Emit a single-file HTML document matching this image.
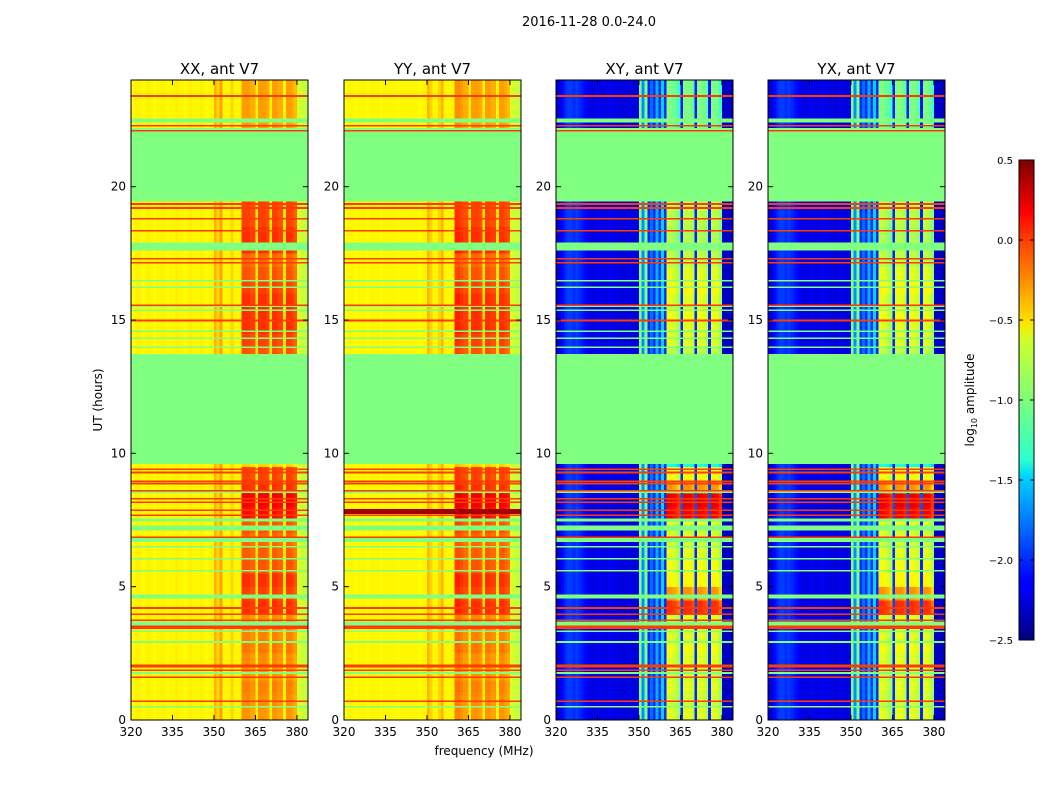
<!DOCTYPE html>
<html><head><meta charset="utf-8"><style>
body{margin:0;background:#fff;font-family:"Liberation Sans",sans-serif;}
svg text{font-family:"DejaVu Sans","Liberation Sans",sans-serif;}
</style></head><body>
<svg id="c" width="1050" height="800" xmlns="http://www.w3.org/2000/svg">
<defs><linearGradient id="jetg" x1="0" y1="1" x2="0" y2="0">
<stop offset="0" stop-color="#00007f"/><stop offset="0.11" stop-color="#0000ff"/><stop offset="0.125" stop-color="#0000ff"/>
<stop offset="0.34" stop-color="#00d4ff"/><stop offset="0.375" stop-color="#29ffce"/><stop offset="0.5" stop-color="#7dff7a"/>
<stop offset="0.625" stop-color="#ceff29"/><stop offset="0.66" stop-color="#ffe500"/><stop offset="0.875" stop-color="#ff1400"/>
<stop offset="0.89" stop-color="#ff0000"/><stop offset="1" stop-color="#7f0000"/></linearGradient></defs>
<text x="589" y="26" font-size="13" text-anchor="middle">2016-11-28 0.0-24.0</text>
<text x="484" y="755" font-size="12" text-anchor="middle">frequency (MHz)</text>
<text transform="translate(102,400) rotate(-90)" font-size="12" text-anchor="middle">UT (hours)</text>
<rect x="1019" y="160" width="15" height="480" fill="url(#jetg)" stroke="#000" stroke-width="1"/>
<text transform="translate(974,400) rotate(-90)" font-size="12" text-anchor="middle">log<tspan font-size="8" dy="3">10</tspan><tspan dy="-3"> amplitude</tspan></text>
<g id="panels"></g>
<g id="cb"></g>
</svg>
<script>
const panelTitles=["XX, ant V7","YY, ant V7","XY, ant V7","YX, ant V7"];
const xTicks=[320,335,350,365,380];
const yTicks=[0,5,10,15,20];
const cbTicks=[0.5,0.0,-0.5,-1.0,-1.5,-2.0,-2.5];
// frequency base profiles, 64 channels 320..383 MHz
const xxFreq=[-0.62,-0.6,-0.58,-0.6,-0.62,-0.6,-0.58,-0.6,-0.62,-0.6,-0.6,-0.58,-0.6,-0.62,-0.6,-0.6,-0.58,-0.6,-0.6,-0.62,-0.6,-0.58,-0.6,-0.6,-0.6,-0.58,-0.6,-0.62,-0.6,-0.6,-0.4,-0.5,-0.35,-0.6,-0.6,-0.6,-0.5,-0.6,-0.6,-0.6,-0.5,-0.5,-0.5,-0.55,-0.55,-0.62,-0.5,-0.5,-0.5,-0.55,-0.62,-0.5,-0.5,-0.55,-0.55,-0.62,-0.5,-0.5,-0.55,-0.6,-0.75,-0.75,-0.8,-0.8];
const yyFreq=[-0.62,-0.6,-0.6,-0.6,-0.62,-0.6,-0.6,-0.6,-0.62,-0.6,-0.6,-0.6,-0.6,-0.62,-0.6,-0.6,-0.6,-0.6,-0.6,-0.62,-0.6,-0.6,-0.6,-0.6,-0.6,-0.6,-0.6,-0.62,-0.6,-0.6,-0.4,-0.5,-0.6,-0.6,-0.5,-0.4,-0.6,-0.6,-0.6,-0.6,-0.45,-0.45,-0.5,-0.55,-0.55,-0.62,-0.5,-0.5,-0.5,-0.55,-0.62,-0.5,-0.5,-0.55,-0.55,-0.62,-0.5,-0.5,-0.55,-0.6,-0.75,-0.75,-0.8,-0.8];
const xyFreq=[-2.25,-2.2,-2.1,-2.0,-1.95,-1.95,-2.0,-1.95,-2.0,-2.05,-2.1,-2.15,-2.2,-2.2,-2.2,-2.15,-2.2,-2.2,-2.2,-2.15,-2.2,-2.2,-2.2,-2.2,-2.25,-2.2,-2.2,-2.2,-2.25,-2.2,-1.0,-1.7,-1.0,-2.0,-1.8,-2.0,-1.6,-2.0,-1.5,-2.0,-1.3,-1.3,-1.35,-1.4,-1.5,-2.1,-1.3,-1.3,-1.3,-1.4,-2.1,-1.3,-1.3,-1.35,-1.4,-2.1,-1.3,-1.3,-1.35,-1.5,-2.3,-2.3,-2.3,-2.3];
const bandGain=[0,0,0,0,0,0,0,0,0,0,0,0,0,0,0,0,0,0,0,0,0,0,0,0,0,0,0,0,0,0,0,0,0,0,0,0,0,0,0,0,1,1,1,1,1,0.15,1,1,1,1,0.15,1,1,1,1,0.15,1,1,1,1,0,0,0,0];
// time activity per half hour (48 rows, 0..24h)
const autoAct=[0.35,0.4,0.45,0.35,0.4,0.5,0.45,0.4,0.9,0.8,0.9,0.7,0.65,0.6,0.7,1.1,1.2,0.9,0.8,0,0,0,0,0,0,0,0,0.7,0.8,0.9,0.9,0.9,0.8,0.7,0.6,0.9,0.9,0.8,0.8,0,0,0,0,0,0.3,0.3,0.3,0.3];
const crossAct=[0.6,0.55,0.6,0.55,0.6,0.65,0.6,0.6,1.3,1.0,0.7,0.65,0.6,0.55,0.6,1.45,1.5,1.0,0.7,0,0,0,0,0,0,0,0,0.5,0.6,0.6,0.65,0.6,0.7,0.6,0.5,0.5,0.45,0.5,0.5,0,0,0,0,0,0.3,0.3,0.3,0.3];
// flagged (green) time ranges [start,end] in hours
const greenBands=[[0.46,0.52],[1.72,1.8],[2.88,2.96],[3.3,3.36],[3.55,3.7],[4.55,4.7],[5.58,5.62],[6.04,6.08],[6.48,6.52],[6.68,6.82],[7.1,7.3],[7.45,7.55],[8.52,8.58],[9.6,13.72],[13.95,14.0],[14.3,14.35],[14.55,14.6],[15.35,15.4],[15.5,15.55],[16.2,16.25],[16.45,16.5],[17.6,17.9],[19.45,22.2],[22.4,22.55]];
// bright (red/orange) horizontal lines [hour, thickness h]
const redLines=[[0.71,0.06],[1.6,0.06],[1.87,0.06],[2.02,0.12],[3.48,0.14],[3.74,0.06],[3.97,0.06],[4.2,0.06],[6.86,0.06],[7.68,0.06],[7.87,0.06],[8.17,0.06],[8.3,0.06],[8.6,0.06],[8.87,0.06],[8.95,0.06],[9.28,0.06],[9.4,0.06],[14.98,0.08],[15.55,0.06],[17.15,0.06],[17.3,0.06],[18.35,0.06],[18.8,0.06],[19.2,0.06],[19.35,0.06],[22.1,0.06],[22.28,0.06],[23.4,0.06]];
const yyDarkLines=[[7.82,0.2]];

const NS="http://www.w3.org/2000/svg";
function jet(v){let x=(v+2.5)/3;x=Math.max(0,Math.min(1,x));
 const c=t=>Math.round(255*Math.max(0,Math.min(1,t)));
 return `rgb(${c(Math.min(4*x-1.5,-4*x+4.5))},${c(Math.min(4*x-0.5,-4*x+3.5))},${c(Math.min(4*x+0.5,-4*x+2.5))})`;}
const panelX=[131,344,556,768],PW=177,PT=80,PB=720;
const yS=h=>PB-h*(PB-PT)/24;
function mk(tag,attrs,parent){const e=document.createElementNS(NS,tag);for(const k in attrs)e.setAttribute(k,attrs[k]);parent.appendChild(e);return e;}
const root=document.getElementById('panels');
const freqs=[xxFreq,yyFreq,xyFreq,xyFreq];
const acts=[autoAct,autoAct,crossAct,crossAct];
panelTitles.forEach((t,p)=>{
 const x0=panelX[p];const xS=f=>x0+(f-320)*PW/64;
 const g=mk('g',{},root);
 
 
 const hm=mk('g',{'shape-rendering':'crispEdges'},g);
 
 
 for(let r=0;r<48;r++){for(let c=0;c<64;c++){
  const v=freqs[p][c]+bandGain[c]*acts[p][r]*(p<2?0.55:1);
  const e=mk('rect',{x:xS(320+c).toFixed(2),y:yS((r+1)/2).toFixed(2),width:(PW/64+0.4).toFixed(2),height:(13.34+0.4).toFixed(2),fill:jet(v)},hm);
  
  
 }}
 greenBands.forEach(b=>{const e=mk('rect',{x:x0,y:yS(b[1]),width:PW,height:Math.max(1.5,(b[1]-b[0])*26.67),fill:jet(-1.0)},hm);
  
  });
 const lines=p==1?redLines.concat(yyDarkLines):redLines;
 lines.forEach((l,i)=>{const dark=p==1&&i>=redLines.length;
  const e=mk('rect',{x:x0,y:yS(l[0]+l[1]/2),width:PW,height:Math.max(1.3,l[1]*26.67),fill:jet(dark?0.4:-0.05)},hm);
  
  });
 const fr=mk('rect',{x:x0,y:PT,width:PW,height:PB-PT,fill:'none',stroke:'#000','stroke-width':1},g);
 
 
 const tt=mk('text',{x:x0+PW/2,y:74,'font-size':15,'text-anchor':'middle'},g);tt.textContent=t;
 
 
 xTicks.forEach(f=>{const x=xS(f);
  mk('line',{x1:x,x2:x,y1:PB,y2:PB-5,stroke:'#000'},g);mk('line',{x1:x,x2:x,y1:PT,y2:PT+5,stroke:'#000'},g);
  const l=mk('text',{x:x,y:PB+16,'font-size':12,'text-anchor':'middle'},g);l.textContent=f;
  
  });
 yTicks.forEach(h=>{const y=yS(h);
  mk('line',{x1:x0,x2:x0+5,y1:y,y2:y,stroke:'#000'},g);mk('line',{x1:x0+PW,x2:x0+PW-5,y1:y,y2:y,stroke:'#000'},g);
  const l=mk('text',{x:x0-5,y:y+4,'font-size':12,'text-anchor':'end'},g);l.textContent=h;
  
  });
});
const cb=document.getElementById('cb');
cbTicks.forEach(v=>{const y=160+(0.5-v)*160;
 mk('line',{x1:1019,x2:1023,y1:y,y2:y,stroke:'#000'},cb);mk('line',{x1:1034,x2:1030,y1:y,y2:y,stroke:'#000'},cb);
 const l=mk('text',{x:1013,y:y+4,'font-size':10,'text-anchor':'end'},cb);l.textContent=v.toFixed(1).replace('-','\u2212');
 
 });
</script>
</body></html>
